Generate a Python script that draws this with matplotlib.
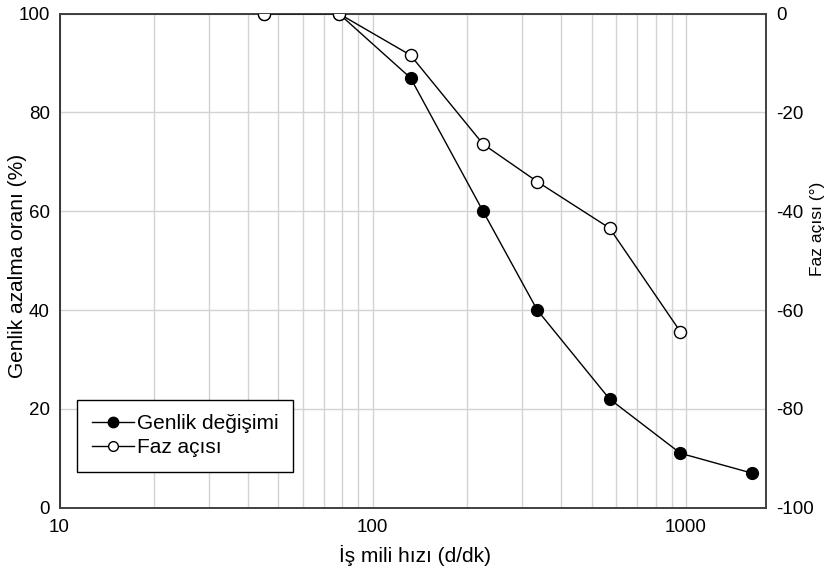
import matplotlib
matplotlib.use('Agg')
import matplotlib.pyplot as plt
from matplotlib.lines import Line2D

plt.rcParams['font.family'] = ['Liberation Sans', 'DejaVu Sans']
plt.rcParams['axes.unicode_minus'] = False

# spindle speed (d/dk)
genlik_x = [5, 45, 78, 132, 225, 335, 570, 960, 1620]
genlik_y = [100, 100, 100, 87, 60, 40, 22, 11, 7]

faz_x = [45, 78, 132, 225, 335, 570, 960]
faz_y = [0, 0, -8.4, -26.4, -34.0, -43.4, -64.4]

fig = plt.figure(figsize=(8.35, 5.71), dpi=100)
ax = fig.add_axes([0.0713, 0.111, 0.846, 0.865])
ax2 = ax.twinx()

ax.set_xscale('log')
ax.set_xlim(10, 1800)
ax.set_ylim(0, 100)
ax.set_yticks([0, 20, 40, 60, 80, 100])
ax2.set_ylim(-100, 0)
ax2.set_yticks([-100, -80, -60, -40, -20, 0])

ax.grid(True, which='major', color='#d3d3d3', lw=1)
ax.grid(True, which='minor', axis='x', color='#d3d3d3', lw=1)
ax.set_axisbelow(True)

ax.plot(genlik_x, genlik_y, color='black', lw=1, marker='o', ms=8.5,
        mfc='black', mec='black', mew=1, zorder=3)
ax2.plot(faz_x, faz_y, color='black', lw=1, marker='o', ms=8.7,
         mfc='white', mec='black', mew=1, zorder=3)

for a in (ax, ax2):
    a.tick_params(which='both', length=0, labelsize=13.5)
    for s in a.spines.values():
        s.set_color('#404040')
        s.set_linewidth(1.2)
ax.spines['left'].set_color('black')
ax.tick_params(axis='y', pad=7)
ax.tick_params(axis='x', pad=8)
ax2.tick_params(axis='y', pad=7.5)

ax.set_xticks([10, 100, 1000])
ax.set_xticklabels(['10', '100', '1000'])
ax.xaxis.set_minor_formatter(plt.NullFormatter())

ax.set_xlabel('İş mili hızı (d/dk)', fontsize=15)
ax.xaxis.set_label_coords(0.503, -0.096)
ax.xaxis.label.set_va('center')
ax.set_ylabel('Genlik azalma oranı (%)', fontsize=15)
ax.yaxis.set_label_coords(-0.060, 0.49)
ax.yaxis.label.set_va('center')
ax2.set_ylabel('Faz açısı (°)', fontsize=12.5, rotation=90)
ax2.yaxis.set_label_coords(1.073, 0.564)
ax2.yaxis.label.set_va('center')

handles = [
    Line2D([], [], color='black', lw=1, marker='o', ms=7.5, mfc='black', mec='black'),
    Line2D([], [], color='black', lw=1, marker='o', ms=7, mfc='white', mec='black'),
]
leg = ax2.legend(handles, ['Genlik değişimi', 'Faz açısı'], loc='lower left',
                 bbox_to_anchor=(0.0252, 0.0723), fancybox=False, framealpha=1,
                 edgecolor='black', fontsize=15, handlelength=2.0,
                 handletextpad=0.15, borderpad=0.7, labelspacing=0.25,
                 borderaxespad=0)
leg.get_frame().set_linewidth(1)

fig.savefig('out.png', dpi=100)
